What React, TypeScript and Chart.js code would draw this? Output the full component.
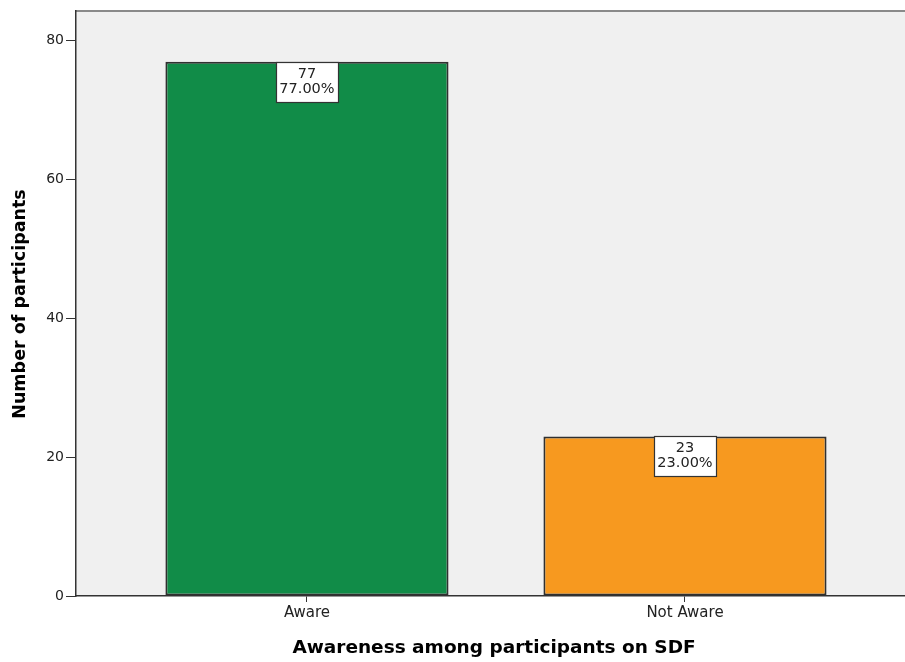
import React, { useEffect, useRef } from "react";
import { Chart, registerables } from "chart.js";

Chart.register(...registerables);

const categories = ["Aware", "Not Aware"];
const counts = [77, 23];
const percents = ["77.00%", "23.00%"];
const yTicks = [0, 20, 40, 60, 80];
const barColors = ["#118c48", "#f7991f"];

const FONT = "'DejaVu Sans', sans-serif";

const plotDecor = {
  id: "plotDecor",
  beforeDraw(chart: any) {
    const { ctx, chartArea: a } = chart;
    ctx.save();
    ctx.fillStyle = "#f0f0f0";
    ctx.fillRect(a.left, a.top, a.right - a.left, a.bottom - a.top);
    ctx.fillStyle = "#8a8a8a";
    ctx.fillRect(a.left, a.top - 1, a.right - a.left, 2);
    ctx.restore();
  },
  afterDraw(chart: any) {
    const { ctx, chartArea: a } = chart;
    ctx.save();
    ctx.fillStyle = "#000";
    ctx.textAlign = "center";
    ctx.textBaseline = "middle";
    ctx.font = `bold 18.5px ${FONT}`;
    ctx.fillText("Awareness among participants on SDF", 494, 648);
    ctx.translate(20, 304);
    ctx.rotate(-Math.PI / 2);
    ctx.font = `bold 17.5px ${FONT}`;
    ctx.fillText("Number of participants", 0, 0);
    ctx.restore();
  },
};

const valueBoxes = {
  id: "valueBoxes",
  afterDatasetsDraw(chart: any) {
    const { ctx } = chart;
    const meta = chart.getDatasetMeta(0);
    ctx.save();
    ctx.font = `14.5px ${FONT}`;
    ctx.textAlign = "center";
    ctx.textBaseline = "middle";
    meta.data.forEach((bar: any, i: number) => {
      const w = 62;
      const h = 40;
      const x = Math.round(bar.x - w / 2) + 0.5;
      const y = Math.round(bar.y) + 0.5;
      ctx.fillStyle = "#ffffff";
      ctx.fillRect(x, y, w, h);
      ctx.strokeStyle = "#333";
      ctx.lineWidth = 1.2;
      ctx.strokeRect(x, y, w, h);
      ctx.fillStyle = "#222";
      ctx.fillText(String(counts[i]), bar.x, y + 12);
      ctx.fillText(percents[i], bar.x, y + 27);
    });
    ctx.restore();
  },
};

export default function App() {
  const ref = useRef<HTMLCanvasElement | null>(null);

  useEffect(() => {
    document.body.style.margin = "0";
    const chart = new Chart(ref.current!, {
      type: "bar",
      data: {
        datasets: [
          {
            data: counts.map((v, i) => ({ x: i + 1, y: v })),
            backgroundColor: barColors,
            borderColor: "#303030",
            borderWidth: 2,
            borderSkipped: false,
            categoryPercentage: 1,
            barPercentage: 0.749,
          },
        ],
      },
      options: {
        animation: false,
        responsive: false,
        maintainAspectRatio: false,
        layout: { padding: { top: 11, left: 0, right: 0, bottom: 0 } },
        plugins: { legend: { display: false }, tooltip: { enabled: false } },
        scales: {
          x: {
            type: "linear",
            offset: false,
            min: 0.389,
            max: 2.582,
            afterBuildTicks: (s: any) => {
              s.ticks = categories.map((_, i) => ({ value: i + 1 }));
            },
            afterFit: (s: any) => {
              s.height = 66;
            },
            ticks: {
              font: { family: FONT, size: 15 },
              color: "#222",
              padding: 2,
              maxRotation: 0,
              autoSkip: false,
              callback: (v: any) => categories[Math.round(Number(v)) - 1] ?? "",
            },
            grid: {
              offset: false,
              drawOnChartArea: false,
              drawTicks: true,
              tickLength: 6,
              color: "#333",
            },
            border: { color: "#333", width: 1.5 },
          },
          y: {
            min: 0,
            max: 84.3,
            afterBuildTicks: (s: any) => {
              s.ticks = yTicks.map((v) => ({ value: v }));
            },
            afterFit: (s: any) => {
              s.width = 76;
            },
            ticks: {
              font: { family: FONT, size: 14 },
              color: "#222",
              padding: 2,
            },
            grid: {
              drawOnChartArea: false,
              drawTicks: true,
              tickLength: 10,
              color: "#333",
            },
            border: { color: "#333", width: 1.5 },
          },
        },
      },
      plugins: [plotDecor, valueBoxes],
    });
    return () => chart.destroy();
  }, []);

  return (
    <div style={{ position: "absolute", left: 0, top: 0, width: 905, height: 662 }}>
      <canvas ref={ref} width={905} height={662} />
    </div>
  );
}
